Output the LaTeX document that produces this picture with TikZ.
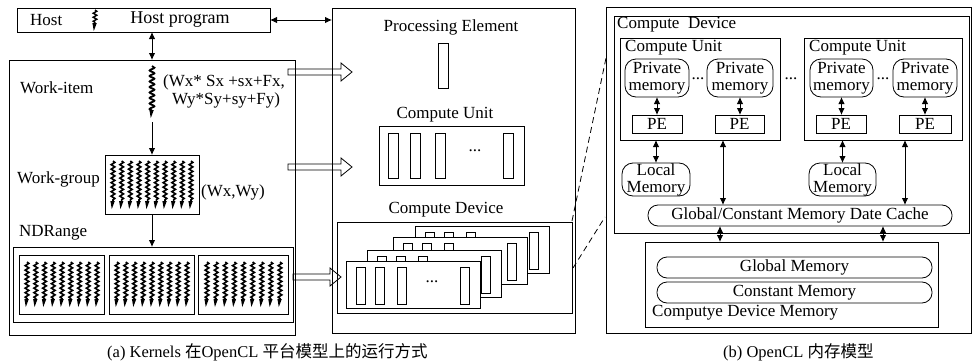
\documentclass[tikz,border=0pt]{standalone}
\usepackage{fontspec}
\setmainfont{Liberation Serif}
\newfontfamily\cjk{Noto Sans CJK SC}
\usetikzlibrary{fit,calc,arrows.meta,decorations.pathmorphing}

\tikzset{
  box/.style={draw, line width=0.8pt, inner sep=0pt, outer sep=0pt},
  rbox/.style={box, rounded corners=11pt},
  pill/.style={box, rounded corners=10pt},
  lbl/.style={inner sep=0pt, anchor=west},
  ctxt/.style={inner sep=0pt, align=center},
  dbl/.style={line width=0.9pt, {Latex[length=7pt,width=6.5pt]}-{Latex[length=7pt,width=6.5pt]}},
  sgl/.style={line width=0.9pt, -{Latex[length=7pt,width=6.5pt]}},
  hollow/.style={line width=0.8pt},
  squ/.style={line width=1.6pt, decorate, decoration={snake, amplitude=1.8pt, segment length=4.5pt}},
  dsh/.style={line width=0.8pt, dash pattern=on 6pt off 4pt},
}

\newcommand{\bx}[6][]{\node[box,#1, fit={(#3,#4) (#5,#6)}] (#2) {};}
\newcommand{\tbx}[7][box]{\node[#1, fit={(#3,#4) (#5,#6)}] (#2) {};
  \node[ctxt] (#2t) at (#2.center) {#7};}
\newcommand{\squig}[4][]{%
  \draw[squ,#1] (#2,#3) -- (#2,#4-7);
  \fill (#2-2.6,#4-8) -- (#2+1.8,#4-8) -- (#2-1.2,#4) -- cycle;}
\newcommand{\sgrid}[5]{%
  \foreach \k in {1,...,#5}{\pgfmathsetmacro\xx{#1+(\k-1)*(#2-#1)/(#5-1)}\squig{\xx}{#3}{#4}}}
\newcommand{\harrow}[2]{%
  \draw[hollow] let \p1=(#1), \p2=(#2) in
   (\x1,\y1+3pt) -- (\x2-11pt,\y1+3pt) -- (\x2-11pt,\y1+9pt) -- (\x2,\y1)
   -- (\x2-11pt,\y1-9pt) -- (\x2-11pt,\y1-3pt) -- (\x1,\y1-3pt) -- cycle;}
\newcommand{\card}[3]{%
  \node[box, fill=white, fit={(#2,#3) (#2+134,#3+47)}] (#1) {};
  \node[box, fit={(#2+10,#3+6) (#2+19,#3+43)}] (#1a) {};
  \node[box, fit={(#2+29,#3+6) (#2+38,#3+43)}] (#1b) {};
  \node[box, fit={(#2+51,#3+6) (#2+60,#3+43)}] (#1c) {};
  \node[box, fit={(#2+114,#3+6) (#2+123,#3+43)}] (#1d) {};
  \node[ctxt] (#1e) at (#2+86,#3+21) {...};}

\begin{document}
\begin{tikzpicture}[x=1pt,y=-1pt,font=\fontsize{17}{17}\selectfont]
\useasboundingbox (0,0) rectangle (972,364);

% ---------------- left panel ----------------
\bx{host}{17}{8}{270}{32}
\node[lbl] (hostt) at (30,20) {Host};
\node[ctxt, font=\fontsize{18}{18}\selectfont] (hostp) at (180,20) {Host program};
\squig[decoration={snake, amplitude=1.8pt, segment length=4pt}, line width=1.4pt]{95}{10}{31}

\bx{left}{9}{60}{295}{335}
\node[lbl] (wit) at (20,88) {Work-item};
\squig[decoration={snake, amplitude=2.4pt, segment length=5.5pt}, line width=1.8pt]{152}{66}{118}
\node[lbl] (wif1) at (163,82) {(Wx* Sx +sx+Fx,};
\node[lbl] (wif2) at (172,100) {Wy*Sy+sy+Fy)};
\coordinate (wi) at (152,122);

\bx{wg}{105}{155}{199}{214}
\sgrid{113}{191}{161}{209}{10}
\node[lbl] (wgt) at (17,179) {Work-group};
\node[lbl] (wgf) at (201,192) {(Wx,Wy)};

\node[lbl] (ndt) at (19,233) {NDRange};
\bx{nd}{13}{247}{293}{322}
\bx{nd1}{19}{255}{104}{314}
\bx{nd2}{109}{255}{194}{314}
\bx{nd3}{198}{255}{288}{314}
\sgrid{27}{97}{262}{307}{9}
\sgrid{117}{187}{262}{307}{9}
\sgrid{207}{280}{262}{307}{9}

\draw[sgl] (wi) -- (wg.north);
\draw[sgl] (wg.south) -- (wg.south |- nd.north);
\coordinate (hv) at (152,32);
\draw[dbl] (hv) -- (hv |- left.north);

% ---------------- middle panel ----------------
\bx{mid}{332}{8}{575}{333}
\draw[dbl] (host.east) -- (host.east -| mid.west);

\node[ctxt] (pet) at (451,27) {Processing Element};
\bx{pe}{438}{43}{448}{88}

\node[ctxt] (cut) at (445,115) {Compute Unit};
\bx{cu}{379}{126}{524}{185}
\bx{cua}{388}{133}{398}{178}
\bx{cub}{410}{133}{420}{178}
\bx{cuc}{435}{133}{445}{178}
\bx{cud}{503}{133}{513}{178}
\node[ctxt] (cue) at (475,151) {...};

\node[ctxt] (cdt) at (446,210) {Compute Device};
\bx{cd}{337}{222}{572}{313}
\card{c4}{415}{226}
\card{c3}{393}{237}
\card{c2}{367}{250}
\card{c1}{346}{261}

\coordinate (h1s) at (288,72);
\coordinate (h1e) at (352,72);
\coordinate (h2s) at (288,167);
\coordinate (h2e) at (352,167);
\coordinate (h3s) at (293,277);
\coordinate (h3e) at (341,277);
\harrow{h1s}{h1e}
\harrow{h2s}{h2e}
\harrow{h3s}{h3e}

% ---------------- right panel ----------------
\bx{rp}{606}{7}{971.5}{333}
\bx{rcd}{614}{16}{969}{233}
\node[lbl] (rcdt) at (617,25) {Compute\ \ Device};

\bx{cu1}{620}{38}{780}{140}
\node[lbl] (cu1t) at (625,48) {Compute Unit};
\tbx[rbox]{pm1}{625}{59}{689}{97}{Private\\memory}
\tbx[rbox]{pm2}{707}{59}{773}{97}{Private\\memory}
\node[ctxt] (d1) at (698,79) {...};
\tbx{pe1}{632}{115}{682}{133}{PE}
\tbx{pe2}{715}{115}{764}{133}{PE}
\draw[dbl] (pm1.south) -- (pm1.south |- pe1.north);
\draw[dbl] (pm2.south) -- (pm2.south |- pe2.north);

\node[ctxt] (d2) at (791,79) {...};

\bx{cu2}{804}{38}{962}{140}
\node[lbl] (cu2t) at (809,48) {Compute Unit};
\tbx[rbox]{pm3}{810}{59}{873}{97}{Private\\memory}
\tbx[rbox]{pm4}{893}{59}{957}{97}{Private\\memory}
\node[ctxt] (d3) at (883,79) {...};
\tbx{pe3}{816}{115}{866}{133}{PE}
\tbx{pe4}{899}{115}{951}{133}{PE}
\draw[dbl] (pm3.south) -- (pm3.south |- pe3.north);
\draw[dbl] (pm4.south) -- (pm4.south |- pe4.north);

\tbx[rbox]{lm1}{622}{163}{690}{196}{Local\\Memory}
\tbx[rbox]{lm2}{809}{163}{876}{196}{Local\\Memory}
\draw[dbl] (lm1.north |- cu1.south) -- (lm1.north);
\draw[dbl] (lm2.north |- cu2.south) -- (lm2.north);

\tbx[pill]{cache}{648}{205}{952}{226}{Global/Constant Memory Date Cache}
\coordinate (g1) at (723,140);
\coordinate (g2) at (905,140);
\draw[dbl] (g1) -- (g1 |- cache.north);
\draw[dbl] (g2) -- (g2 |- cache.north);

\bx{mem}{645}{242}{938}{327}
\coordinate (m1) at (720,226);
\coordinate (m2) at (883,226);
\draw[dbl] (m1) -- (m1 |- mem.north);
\draw[dbl] (m2) -- (m2 |- mem.north);
\tbx[pill]{gm}{657}{257}{932}{278}{Global Memory}
\tbx[pill]{cm}{657}{282}{932}{303}{Constant Memory}
\node[lbl] (memt) at (652,313) {Computye Device Memory};

% dashed zoom lines
\coordinate (z1a) at (572,221);
\coordinate (z1b) at (606,58);
\coordinate (z2a) at (573,268);
\coordinate (z2b) at (605,217);
\draw[dsh] (z1a) -- (z1b);
\draw[dsh] (z2a) -- (z2b);

% captions
\node[lbl, font=\fontsize{16.5}{17}\selectfont] (capa) at (107,352) {(a) Kernels {\cjk 在}OpenCL {\cjk 平台模型上的运行方式}};
\node[lbl, font=\fontsize{16.5}{17}\selectfont] (capb) at (723,352) {(b) OpenCL {\cjk 内存模型}};
\end{tikzpicture}
\end{document}
